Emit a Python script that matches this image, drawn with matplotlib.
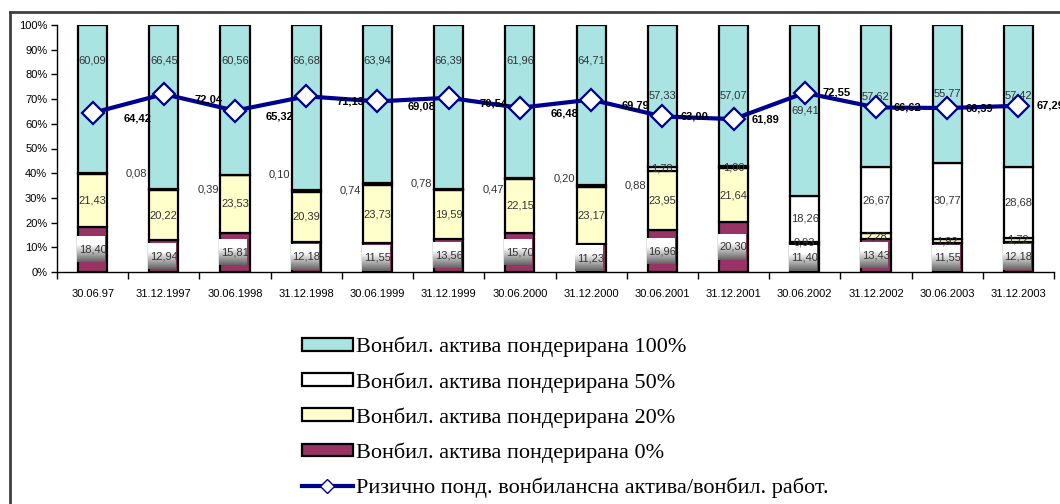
import numpy as np
import matplotlib
matplotlib.use("Agg")
import matplotlib.pyplot as plt
from matplotlib.patches import Patch
from matplotlib.lines import Line2D

# половини години
dates = ["30.06.97", "31.12.1997", "30.06.1998", "31.12.1998", "30.06.1999",
         "31.12.1999", "30.06.2000", "31.12.2000", "30.06.2001", "31.12.2001",
         "30.06.2002", "31.12.2002", "30.06.2003", "31.12.2003"]

# структура на вонбилансната актива по пондери (%)
w0 = [18.40, 12.94, 15.81, 12.18, 11.55, 13.56, 15.70, 11.23, 16.96, 20.30,
      11.40, 13.43, 11.55, 12.18]
w20 = [21.43, 20.22, 23.53, 20.39, 23.73, 19.59, 22.15, 23.17, 23.95, 21.64,
       0.93, 2.28, 1.92, 1.72]
w50 = [0.08, 0.39, 0.10, 0.74, 0.78, 0.47, 0.20, 0.88, 1.78, 1.00,
       18.26, 26.67, 30.77, 28.68]
w100 = [60.09, 66.45, 60.56, 66.68, 63.94, 66.39, 61.96, 64.71, 57.33, 57.07,
        69.41, 57.62, 55.77, 57.42]

# ризично пондерирана / вкупна вонбилансна актива (%)
risk = [64.42, 72.04, 65.32, 71.13, 69.08, 70.54, 66.48, 69.79, 63.00, 61.89,
        72.55, 66.62, 66.39, 67.29]

legend_labels = ["Вонбил. актива пондерирана 100%",
                 "Вонбил. актива пондерирана 50%",
                 "Вонбил. актива пондерирана 20%",
                 "Вонбил. актива пондерирана 0%",
                 "Ризично понд. вонбилансна актива/вонбил. работ."]

c100 = "#a9e4e3"
c50 = "#ffffff"
c20 = "#ffffcc"
c0 = "#993366"
navy = "#000090"

def fmt(v):
    return f"{v:.2f}".replace(".", ",")

fig = plt.figure(figsize=(10.6, 5.04), dpi=100)
ax = fig.add_axes([57 / 1060, 1 - 272 / 504, 997 / 1060, 247 / 504])

x = np.arange(len(dates))
w0 = np.array(w0); w20 = np.array(w20); w50 = np.array(w50); w100 = np.array(w100)
bw = 0.41
kw = dict(width=bw, edgecolor="black", linewidth=1.6, zorder=2)
ax.bar(x, w0, color=c0, **kw)
ax.bar(x, w20, bottom=w0, color=c20, **kw)
ax.bar(x, w50, bottom=w0 + w20, color=c50, **kw)
ax.bar(x, w100, bottom=w0 + w20 + w50, color=c100, **kw)

lab = dict(fontsize=8, color="#333333", family="Liberation Sans",
           ha="center", va="center", zorder=4)

# shaded boxes behind the 0% labels
grad = np.concatenate([np.ones(8), np.linspace(1.0, 0.4, 18)])[:, None]
for i in range(len(x)):
    mid = w0[i] / 2
    ax.imshow(grad, cmap="gray", vmin=0, vmax=1, aspect="auto",
              interpolation="bilinear",
              extent=[i - 0.22, i + 0.17, mid - 5.2, mid + 5.2], zorder=3)
    ax.text(i, mid, fmt(w0[i]), **lab)

    ax.text(i, w0[i] + w20[i] / 2, fmt(w20[i]), **lab)

    m50 = w0[i] + w20[i] + w50[i] / 2
    if i < 8:
        ax.text(i + 0.62, m50, fmt(w50[i]), **lab)
    else:
        ax.text(i, m50, fmt(w50[i]), **lab)

    top0 = w0[i] + w20[i] + w50[i]
    y100 = 85.5 if i < 8 else top0 + w100[i] / 2
    ax.text(i, y100, fmt(w100[i]), **lab)

ax.plot(x, risk, color=navy, lw=3, marker="D", markersize=11,
        markerfacecolor="white", markeredgecolor=navy, markeredgewidth=1.6, zorder=5)
for i, v in enumerate(risk):
    off = (22, -4) if i < 8 else (13, 0)
    ax.annotate(fmt(v), (i, v), xytext=off, textcoords="offset points",
                fontsize=8, fontweight="bold", family="Liberation Sans",
                ha="left", va="center", color="black", zorder=6)

ax.set_xlim(-0.5, len(x) - 0.5)
ax.set_ylim(0, 100)
ax.set_yticks(np.arange(0, 101, 10))
ax.set_yticklabels([f"{t}%" for t in range(0, 101, 10)],
                   fontsize=8, family="Liberation Sans")
ax.set_xticks(x)
ax.set_xticklabels(dates, fontsize=8, family="Liberation Sans")
ax.set_xticks(np.arange(-0.5, len(x), 1), minor=True)
ax.tick_params(axis="x", which="major", length=0, pad=12)
ax.tick_params(axis="x", which="minor", length=5, width=1, direction="out")
ax.tick_params(axis="y", length=4, width=1, direction="out", pad=3)
for s in ("top", "right"):
    ax.spines[s].set_visible(False)
ax.spines["left"].set_linewidth(1)
ax.spines["bottom"].set_linewidth(1)

handles = [Patch(facecolor=c100, edgecolor="black", linewidth=1.6),
           Patch(facecolor=c50, edgecolor="black", linewidth=1.6),
           Patch(facecolor=c20, edgecolor="black", linewidth=1.6),
           Patch(facecolor=c0, edgecolor="black", linewidth=1.6),
           Line2D([], [], color=navy, lw=3, marker="D", markersize=7,
                  markerfacecolor="white", markeredgecolor=navy)]
fig.legend(handles, legend_labels, loc="upper left",
           bbox_to_anchor=(293 / 1060, 1 - 328 / 504), frameon=False,
           prop={"family": "Liberation Serif", "size": 16},
           handlelength=2.3, handleheight=0.5, handletextpad=0.15,
           labelspacing=0.66, borderaxespad=0)

# outer frame
fig.add_artist(Line2D([10 / 1060, 1.0], [1 - 12 / 504, 1 - 12 / 504],
                      color="#404040", lw=2, transform=fig.transFigure))
fig.add_artist(Line2D([10 / 1060, 10 / 1060], [0, 1 - 12 / 504],
                      color="#404040", lw=2, transform=fig.transFigure))

fig.savefig("out.png", dpi=100)
